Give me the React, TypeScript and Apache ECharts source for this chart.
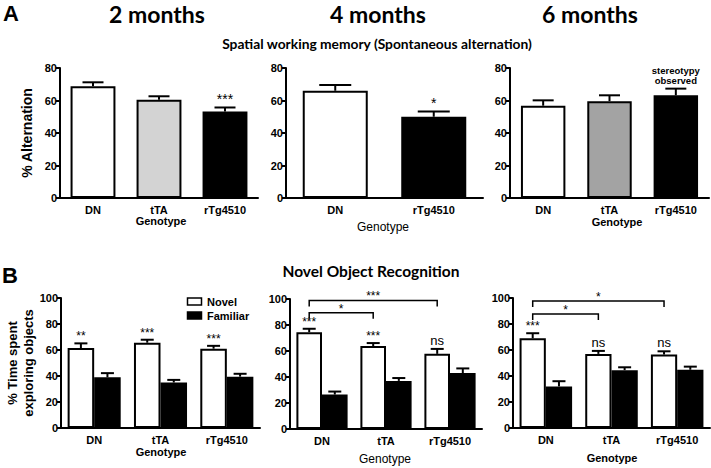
import React, { useEffect, useRef } from "react";
import * as echarts from "echarts";

// ---------- data ----------
const genotypes3 = ["DN", "tTA", "rTg4510"];
const genotypes2 = ["DN", "rTg4510"];

// Panel A: spontaneous alternation (%)
const alt2mMean = [68.7, 60.5, 53.3];
const alt2mSem = [2.5, 2.1, 2.4];
const alt2mSig = ["", "", "***"];
const alt4mMean = [66.0, 50.0];
const alt4mSem = [3.6, 3.3];
const alt4mSig = ["", "*"];
const alt6mMean = [56.8, 59.6, 63.2];
const alt6mSem = [3.3, 3.6, 4.1];
const alt6mSig = ["", "", "stereotypy\nobserved"];

// Panel B: novel object recognition (% time)
const nor2mNovel = [61.5, 65.6, 61.0];
const nor2mNovelSem = [3.6, 2.3, 2.2];
const nor2mFamiliar = [39.0, 35.0, 39.5];
const nor2mFamiliarSem = [3.2, 2.0, 2.2];
const nor2mSig = ["**", "***", "***"];

const nor4mNovel = [74.5, 63.8, 57.8];
const nor4mNovelSem = [2.6, 2.3, 3.8];
const nor4mFamiliar = [26.5, 37.0, 43.0];
const nor4mFamiliarSem = [2.3, 2.2, 3.6];
const nor4mSig = ["***", "***", "ns"];
const nor4mBrackets = [
  { from: 0, to: 1, level: 89.4, label: "*" },
  { from: 0, to: 2, level: 98.9, label: "***" },
];

const nor6mNovel = [69.0, 57.0, 56.5];
const nor6mNovelSem = [3.9, 2.3, 2.5];
const nor6mFamiliar = [32.0, 44.5, 44.8];
const nor6mFamiliarSem = [4.0, 2.2, 2.4];
const nor6mSig = ["***", "ns", "ns"];
const nor6mBrackets = [
  { from: 0, to: 1, level: 87.6, label: "*" },
  { from: 0, to: 2, level: 97.7, label: "*" },
];

const tickFont = "Liberation Sans, Arial, sans-serif";
const titleFont = "Lato, 'Open Sans', sans-serif";

// ---------- helpers ----------
type ErrItem = { cat: number; mean: number; sem: number; off: number; label: string; starSize?: number };

function errorSeries(idx: number, items: ErrItem[], capHalf: number, starSize: number) {
  return {
    type: "custom",
    xAxisIndex: idx,
    yAxisIndex: idx,
    z: 5,
    data: items.map((d) => [d.cat, d.mean + d.sem]),
    renderItem: (params: any, api: any) => {
      const d = items[params.dataIndex];
      const band = api.size([1, 0])[0];
      const cx = api.coord([d.cat, 0])[0] + d.off * band;
      const yTop = api.coord([d.cat, d.mean])[1];
      const yErr = api.coord([d.cat, d.mean + d.sem])[1];
      const children: any[] = [
        { type: "line", shape: { x1: cx, y1: yTop, x2: cx, y2: yErr }, style: { stroke: "#000", lineWidth: 2 } },
        { type: "line", shape: { x1: cx - capHalf, y1: yErr, x2: cx + capHalf, y2: yErr }, style: { stroke: "#000", lineWidth: 2 } },
      ];
      if (d.label) {
        let font = "normal " + starSize + "px " + tickFont;
        let dy = 1;
        let lh: number | undefined = undefined;
        if (d.label === "ns") {
          font = "normal 13px " + tickFont;
          dy = 2;
        } else if (d.label.indexOf("stereotypy") >= 0) {
          font = "bold 9.5px " + tickFont;
          dy = 3;
          lh = 10;
        }
        children.push({
          type: "text",
          x: cx,
          y: yErr - dy,
          style: { text: d.label, font, fill: "#000", align: "center", verticalAlign: "bottom", lineHeight: lh },
        });
      }
      return { type: "group", children };
    },
  };
}

function bracketSeries(idx: number, brackets: { from: number; to: number; level: number; label: string }[], off: number) {
  return {
    type: "custom",
    xAxisIndex: idx,
    yAxisIndex: idx,
    z: 6,
    data: brackets.map((b) => [b.from, b.level]),
    renderItem: (params: any, api: any) => {
      const b = brackets[params.dataIndex];
      const band = api.size([1, 0])[0];
      const x1 = api.coord([b.from, 0])[0] + off * band;
      const x2 = api.coord([b.to, 0])[0] + off * band;
      const y = api.coord([b.from, b.level])[1];
      return {
        type: "group",
        children: [
          {
            type: "polyline",
            shape: { points: [[x1, y + 6], [x1, y], [x2, y], [x2, y + 6]] },
            style: { stroke: "#000", lineWidth: 1.5, fill: null },
          },
          {
            type: "text",
            x: (x1 + x2) / 2,
            y: y + 2,
            style: { text: b.label, font: "normal 12px " + tickFont, fill: "#000", align: "center", verticalAlign: "bottom" },
          },
        ],
      };
    },
  };
}

function xAxis(idx: number, cats: string[]) {
  return {
    type: "category",
    gridIndex: idx,
    data: cats,
    axisLine: { lineStyle: { color: "#000", width: 2 } },
    axisTick: { alignWithLabel: true, length: 4, lineStyle: { color: "#000", width: 2 } },
    axisLabel: { color: "#000", fontWeight: "bold", fontSize: 11, fontFamily: tickFont, margin: 6 },
  };
}

function yAxis(idx: number, max: number) {
  return {
    type: "value",
    gridIndex: idx,
    min: 0,
    max,
    interval: 20,
    axisLine: { show: true, lineStyle: { color: "#000", width: 2 } },
    axisTick: { show: true, length: 4, lineStyle: { color: "#000", width: 2 } },
    splitLine: { show: false },
    axisLabel: { color: "#000", fontWeight: "bold", fontSize: 11, fontFamily: tickFont, margin: 3 },
  };
}

function singleBars(idx: number, means: number[], colors: string[], width: string) {
  return {
    type: "bar",
    xAxisIndex: idx,
    yAxisIndex: idx,
    barWidth: width,
    data: means.map((v, j) => ({ value: v, itemStyle: { color: colors[j] } })),
    itemStyle: { borderColor: "#000", borderWidth: 2 },
  };
}

function pairBars(idx: number, novel: number[], familiar: number[]) {
  return [
    {
      type: "bar",
      name: "Novel",
      xAxisIndex: idx,
      yAxisIndex: idx,
      barWidth: "40%",
      barGap: "0%",
      data: novel,
      itemStyle: { color: "#fff", borderColor: "#000", borderWidth: 2 },
    },
    {
      type: "bar",
      name: "Familiar",
      xAxisIndex: idx,
      yAxisIndex: idx,
      barWidth: "40%",
      barGap: "0%",
      data: familiar,
      itemStyle: { color: "#000", borderColor: "#000", borderWidth: 2 },
    },
  ];
}

function errItems(means: number[], sems: number[], sig: string[], off: number): ErrItem[] {
  return means.map((m, i) => ({ cat: i, mean: m, sem: sems[i], off, label: sig[i] }));
}

function txt(text: string, x: number, y: number, font: string, extra: any = {}) {
  return {
    type: "text",
    x,
    y,
    ...extra,
    style: { text, font, fill: "#000", align: "center", verticalAlign: "middle", ...(extra.style || {}) },
  };
}

export default function App() {
  const ref = useRef<HTMLDivElement>(null);
  useEffect(() => {
    if (!ref.current) return;
    const chart = echarts.init(ref.current, undefined, { renderer: "svg" });

    const grids = [
      { left: 60, top: 68, width: 198, height: 130 },
      { left: 286, top: 68, width: 197, height: 130 },
      { left: 510, top: 68, width: 199, height: 130 },
      { left: 61, top: 298, width: 199, height: 130 },
      { left: 290, top: 299, width: 192, height: 130 },
      { left: 513, top: 298, width: 197, height: 130 },
    ];

    const none = ["", "", ""];
    const series: any[] = [
      singleBars(0, alt2mMean, ["#fff", "#d3d3d3", "#000"], "68%"),
      errorSeries(0, errItems(alt2mMean, alt2mSem, alt2mSig, 0), 10.5, 14),
      singleBars(1, alt4mMean, ["#fff", "#000"], "66%"),
      errorSeries(1, errItems(alt4mMean, alt4mSem, alt4mSig, 0), 16, 14),
      singleBars(2, alt6mMean, ["#fff", "#a3a3a3", "#000"], "67%"),
      errorSeries(2, errItems(alt6mMean, alt6mSem, alt6mSig, 0), 10.5, 14),
      ...pairBars(3, nor2mNovel, nor2mFamiliar),
      errorSeries(3, [...errItems(nor2mNovel, nor2mNovelSem, nor2mSig, -0.2), ...errItems(nor2mFamiliar, nor2mFamiliarSem, none, 0.2)], 6.5, 12),
      ...pairBars(4, nor4mNovel, nor4mFamiliar),
      errorSeries(4, [...errItems(nor4mNovel, nor4mNovelSem, nor4mSig, -0.2), ...errItems(nor4mFamiliar, nor4mFamiliarSem, none, 0.2)], 6.5, 12),
      bracketSeries(4, nor4mBrackets, -0.2),
      ...pairBars(5, nor6mNovel, nor6mFamiliar),
      errorSeries(5, [...errItems(nor6mNovel, nor6mNovelSem, nor6mSig, -0.2), ...errItems(nor6mFamiliar, nor6mFamiliarSem, none, 0.2)], 6.5, 12),
      bracketSeries(5, nor6mBrackets, -0.2),
    ];

    const bold11 = "bold 11px " + tickFont;
    const graphic: any[] = [
      txt("A", 11, 13, "bold 22px " + tickFont),
      txt("B", 10, 275, "bold 22px " + tickFont),
      txt("2 months", 157, 14, "bold 23px " + titleFont),
      txt("4 months", 378, 14, "bold 23px " + titleFont),
      txt("6 months", 590, 14, "bold 23px " + titleFont),
      txt("Spatial working memory (Spontaneous alternation)", 377, 43, "bold 13.8px " + titleFont),
      txt("Novel Object Recognition", 371, 271, "bold 15.5px " + titleFont),
      txt("% Alternation", 27, 133, "bold 14px " + tickFont, { rotation: Math.PI / 2 }),
      txt("% Time spent\nexploring objects", 20, 363, "bold 13px " + tickFont, { rotation: Math.PI / 2, style: { lineHeight: 16 } }),
      txt("Genotype", 161, 221, bold11),
      txt("Genotype", 383, 227, "normal 12px " + tickFont),
      txt("Genotype", 617, 222, bold11),
      txt("Genotype", 161, 452, bold11),
      txt("Genotype", 385, 459, "normal 12px " + tickFont),
      txt("Genotype", 612, 458, bold11),
      { type: "rect", shape: { x: 187.5, y: 298, width: 14, height: 7 }, style: { fill: "#fff", stroke: "#000", lineWidth: 1.5 } },
      { type: "rect", shape: { x: 187.5, y: 312, width: 14, height: 7 }, style: { fill: "#000", stroke: "#000", lineWidth: 1.5 } },
      txt("Novel", 207, 301.5, bold11, { style: { align: "left" } }),
      txt("Familiar", 207, 315.5, bold11, { style: { align: "left" } }),
    ];

    chart.setOption({
      animation: false,
      backgroundColor: "#fff",
      grid: grids,
      xAxis: [
        xAxis(0, genotypes3),
        xAxis(1, genotypes2),
        xAxis(2, genotypes3),
        xAxis(3, genotypes3),
        xAxis(4, genotypes3),
        xAxis(5, genotypes3),
      ],
      yAxis: [yAxis(0, 80), yAxis(1, 80), yAxis(2, 80), yAxis(3, 100), yAxis(4, 100), yAxis(5, 100)],
      series,
      graphic,
    });
    return () => chart.dispose();
  }, []);
  return <div ref={ref} style={{ position: "absolute", left: 0, top: 0, width: 711, height: 468 }} />;
}
